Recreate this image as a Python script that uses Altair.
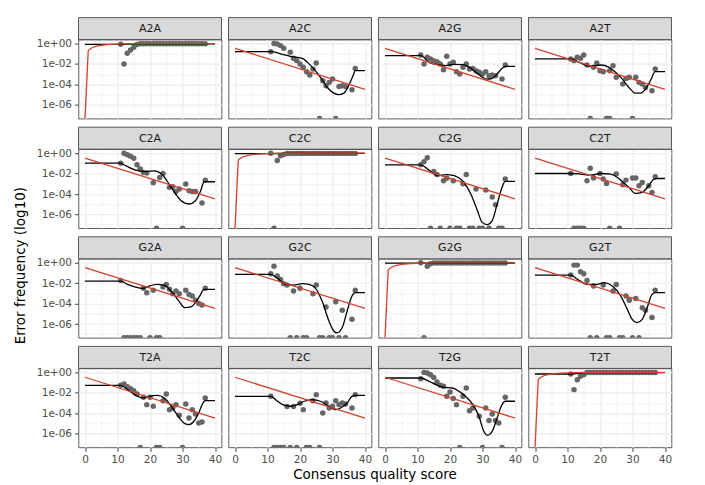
import altair as alt
import pandas as pd

# ---------------- layout of panels ----------------
PANELS = [["A2A", "A2C", "A2G", "A2T"],
          ["C2A", "C2C", "C2G", "C2T"],
          ["G2A", "G2C", "G2G", "G2T"],
          ["T2A", "T2C", "T2G", "T2T"]]
DIAG = ["A2A", "C2C", "G2G", "T2T"]

Q_TICKS = [0, 5, 10, 15, 20, 25, 30, 35, 40]
Y_TICKS = [1e0, 1e-1, 1e-2, 1e-3, 1e-4, 1e-5, 1e-6, 1e-7]
X_TITLE = "Consensus quality score"
Y_TITLE = "Error frequency (log10)"

# ---------------- nominal (red) lines ----------------
NOM_OFF_Q = [0, 40]
NOM_OFF_V = [0.3333, 0.00003333]
NOM_DIAG_Q = [0, 1, 2, 3, 4, 5, 6, 7, 8, 10, 12, 15, 20, 30, 40]
NOM_DIAG_V = [0, 0.206, 0.369, 0.499, 0.602, 0.684, 0.749, 0.800, 0.842, 0.900, 0.937, 0.968, 0.990, 0.999, 1.0]

# ---------------- observed points (log10 of frequency) & zeros ----------------
A2A_pq = list(range(11, 38))
A2A_pe = [-0.07, -2.0, -0.95, -0.62, -0.36, -0.08] + [-0.02] * 21
A2A_zq = []
C2C_pq = [11, 13, 14, 15] + list(range(16, 38))
C2C_pe = [0.0, -0.72, -0.26, -0.12] + [-0.02] * 22
C2C_zq = [12]
G2G_pq = [11, 13, 14] + list(range(15, 38))
G2G_pe = [0.0, -0.33, -0.1] + [-0.02] * 23
G2G_zq = [12]
T2T_pq = list(range(11, 38))
T2T_pe = [-0.16, -1.69, -0.72, -0.39, -0.23] + [-0.02] * 22
T2T_zq = []

A2C_pq = [11, 12, 13, 14, 15, 17, 18, 19, 20, 21, 22, 23, 24, 25, 27, 28, 29, 30, 32, 33, 34, 36, 37]
A2C_pe = [-0.79, 0.0, -0.05, -0.2, -0.46, -0.85, -1.44, -1.67, -2.0, -2.33, -2.75, -3.08, -2.49, -1.9,
          -3.64, -4.13, -3.8, -3.48, -4.2, -4.13, -4.2, -4.52, -2.43]
A2C_zq = [26, 31]
A2G_pq = [11, 12, 13, 14, 15, 16, 17, 18, 19, 20, 21, 22, 23, 24, 25, 26, 27, 28, 29, 30, 31, 32, 33, 34, 36, 37]
A2G_pe = [-1.11, -2.0, -1.34, -1.5, -1.67, -1.77, -2.0, -2.56, -1.25, -2.0, -1.84, -2.75, -2.98, -2.33,
          -2.0, -2.49, -2.43, -2.66, -2.82, -2.98, -2.75, -3.15, -3.08, -3.15, -3.48, -2.1]
A2G_zq = []
A2T_pq = [11, 12, 13, 14, 15, 16, 18, 19, 20, 21, 23, 24, 25, 27, 28, 29, 31, 32, 33, 34, 36, 37]
A2T_pe = [-1.5, -1.67, -1.34, -1.43, -1.11, -2.1, -2.33, -1.9, -2.66, -2.75, -2.66, -2.16, -3.3, -3.97,
          -3.41, -3.3, -3.3, -3.8, -3.97, -4.3, -4.62, -2.49]
A2T_zq = [17, 22, 23, 30]

C2A_pq = [11, 12, 13, 14, 15, 16, 17, 18, 19, 21, 23, 24, 26, 27, 28, 29, 31, 32, 33, 34, 36, 37]
C2A_pe = [-0.98, 0.0, -0.16, -0.29, -0.49, -1.14, -1.56, -1.89, -1.95, -2.9, -2.38, -1.99, -3.35, -3.29,
          -3.75, -3.52, -3.03, -3.68, -3.75, -3.75, -4.89, -2.64]
C2A_zq = [22, 30]
C2G_pq = [11, 12, 13, 15, 16, 18, 19, 21, 24, 25, 28, 31, 33, 34, 37]
C2G_pe = [-1.14, -0.85, -0.45, -1.8, -2.1, -2.7, -2.45, -2.7, -3.0, -2.1, -3.5, -3.6, -4.3, -5.05, -2.54]
C2G_zq = [14, 17, 20, 22, 23, 26, 27, 29, 30, 32, 35, 36]
C2T_pq = [11, 16, 17, 18, 20, 21, 22, 25, 27, 28, 30, 31, 32, 33, 35, 36, 37]
C2T_pe = [-1.99, -2.7, -1.47, -2.44, -1.99, -2.54, -2.96, -2.05, -3.1, -2.64, -2.44, -2.44, -3.19,
          -2.87, -3.19, -3.84, -2.31]
C2T_zq = [12, 13, 14, 15, 23, 26]

G2A_pq = [11, 18, 19, 21, 24, 25, 26, 27, 28, 29, 31, 32, 33, 34, 35, 36, 37]
G2A_pe = [-1.73, -2.5, -2.93, -2.7, -2.38, -2.12, -2.6, -3.03, -2.77, -3.03, -2.7, -3.1, -3.26, -3.68,
          -4.0, -4.14, -2.5]
G2A_zq = [12, 13, 14, 15, 16, 17, 20, 22, 23]
G2C_pq = [11, 12, 13, 14, 15, 16, 18, 20, 24, 25, 28, 31, 33, 36, 37]
G2C_pe = [-1.07, -0.33, -1.3, -1.63, -2.05, -2.18, -2.77, -2.5, -3.03, -2.18, -4.33, -3.81, -4.66, -5.54, -2.7]
G2C_zq = [17, 19, 21, 22, 26, 27, 29, 30, 32, 34]
G2T_pq = [11, 12, 13, 14, 15, 16, 18, 21, 24, 25, 28, 29, 31, 33, 34, 36, 37]
G2T_pe = [-1.2, -0.23, -0.23, -0.88, -1.07, -1.73, -2.28, -2.18, -2.77, -2.12, -3.26, -3.68, -3.49,
          -4.4, -4.66, -5.37, -2.7]
G2T_zq = [17, 19, 22, 23, 26, 27, 30, 32]

T2A_pq = [11, 12, 13, 14, 15, 16, 18, 19, 20, 21, 24, 25, 26, 27, 28, 29, 31, 32, 33, 34, 35, 36, 37]
T2A_pe = [-1.27, -1.14, -1.4, -1.6, -1.79, -2.12, -2.44, -3.16, -2.44, -3.32, -2.77, -2.12, -3.65, -3.49,
          -3.16, -4.2, -3.09, -4.46, -3.65, -4.07, -4.95, -4.85, -2.5]
T2A_zq = [17, 22, 23, 30]
T2C_pq = [11, 16, 18, 20, 21, 24, 25, 27, 28, 29, 30, 31, 32, 33, 34, 36, 37]
T2C_pe = [-2.35, -3.35, -3.35, -3.03, -3.65, -2.77, -2.18, -3.97, -3.0, -3.49, -3.32, -2.77, -3.16,
          -3.0, -3.09, -3.49, -2.18]
T2C_zq = [12, 13, 14, 15, 17, 19, 22, 23, 26]
T2G_pq = [11, 12, 13, 14, 15, 16, 17, 18, 19, 20, 21, 22, 24, 25, 26, 27, 29, 31, 32, 33, 34, 35, 37]
T2G_pe = [-0.62, 0.0, -0.07, -0.23, -0.49, -0.94, -1.27, -1.37, -2.35, -1.92, -2.57, -3.16, -2.35, -1.53,
          -3.75, -3.49, -4.3, -3.49, -4.72, -4.07, -4.72, -4.95, -2.44]
T2G_zq = [23, 30, 36]

# ---------------- fitted (black) lines, log10 ----------------
A2A_fq = [0, 11, 16, 40]; A2A_fe = [-0.08, -0.08, -0.02, -0.02]
C2C_fq = [0, 11, 16, 40]; C2C_fe = [-0.04, -0.04, -0.02, -0.02]
G2G_fq = [0, 11, 16, 40]; G2G_fe = [-0.04, -0.04, -0.02, -0.02]
T2T_fq = [0, 11, 16, 40]; T2T_fe = [-0.16, -0.16, -0.02, -0.02]

A2C_fq = [0, 11, 14, 17, 20.7, 22.3, 24.3, 26.3, 28.4, 30.4, 32, 33.5, 35, 36.5, 37, 40]
A2C_fe = [-0.79, -0.79, -1.0, -1.25, -1.44, -1.84, -2.5, -3.3, -4.3, -4.85, -5.0, -4.85, -4.1, -3.0, -2.65, -2.65]
A2G_fq = [0, 11, 13.6, 17, 18.7, 21, 24, 26, 28, 30, 31.5, 33, 34.5, 36, 37, 40]
A2G_fe = [-1.18, -1.18, -1.84, -2.1, -2.16, -2.03, -2.07, -2.33, -2.82, -3.3, -3.48, -3.4, -2.98, -2.43, -2.23, -2.23]
A2T_fq = [0, 11, 13.6, 17.2, 20.2, 22.8, 24.8, 26.9, 28.9, 30.9, 32.5, 34, 35.5, 37, 40]
A2T_fe = [-1.5, -1.5, -1.84, -2.23, -2.1, -2.33, -2.82, -3.48, -4.3, -4.85, -4.85, -4.46, -3.64, -2.75, -2.75]

C2A_fq = [0, 10.8, 12.6, 15.6, 18.7, 21.3, 23.8, 25.8, 27.9, 29.9, 32, 34, 35.5, 36.7, 40]
C2A_fe = [-0.98, -0.98, -1.24, -1.66, -1.8, -1.73, -2.1, -3.0, -4.0, -4.75, -4.98, -4.66, -3.75, -2.8, -2.8]
C2G_fq = [0, 11, 13.1, 16.2, 18.7, 21.3, 23.8, 26.4, 28.4, 29.9, 31.4, 33, 34.5, 36, 37, 40]
C2G_fe = [-1.14, -1.14, -1.56, -2.2, -2.1, -2.2, -2.7, -4.0, -5.6, -6.78, -7.0, -6.6, -5.0, -3.36, -2.77, -2.77]
C2T_fq = [0, 11, 14.1, 17.2, 20.2, 23.3, 26.4, 28.9, 30.9, 33, 35, 36.6, 37.6, 40]
C2T_fe = [-1.99, -1.99, -2.05, -2.15, -1.99, -2.05, -2.64, -3.36, -3.94, -3.84, -3.19, -2.54, -2.48, -2.48]

G2A_fq = [0, 11, 13.1, 15.6, 17.7, 19.7, 22.3, 24.3, 26.9, 28.9, 30.7, 32.5, 34, 35.3, 36.6, 40]
G2A_fe = [-1.79, -1.79, -2.12, -2.38, -2.5, -2.28, -2.12, -2.18, -2.93, -3.75, -4.4, -4.33, -3.9, -3.26, -2.6, -2.6]
G2C_fq = [0, 11, 13.1, 15.7, 18.2, 20.7, 22.8, 24.8, 26.8, 28.9, 30.4, 31.4, 33, 34.5, 36, 37, 40]
G2C_fe = [-1.14, -1.14, -1.53, -2.12, -2.18, -2.05, -2.12, -2.5, -3.75, -5.7, -6.68, -6.87, -6.35, -4.72,
          -3.26, -2.93, -2.93]
G2T_fq = [0, 11, 13.1, 16.2, 18.7, 21.3, 23.8, 26.4, 28.4, 29.9, 31.4, 33, 34.5, 36, 37, 40]
G2T_fe = [-1.2, -1.2, -1.63, -2.12, -2.12, -1.95, -2.28, -3.26, -4.56, -5.54, -5.86, -5.54, -4.4, -3.1, -2.93, -2.93]

T2A_fq = [0, 11, 13.1, 15.6, 17.7, 19.7, 22.3, 24.3, 26.9, 28.9, 30.9, 32, 33.5, 35, 36.3, 37, 40]
T2A_fe = [-1.27, -1.27, -1.69, -2.25, -2.5, -2.35, -2.25, -2.5, -3.49, -4.4, -5.05, -5.11, -4.79, -3.97,
          -3.0, -2.77, -2.77]
T2C_fq = [0, 11, 13.1, 15.1, 17.2, 19.2, 21.3, 23.8, 26.3, 28.9, 30.9, 32.5, 34.5, 36, 37, 40]
T2C_fe = [-2.35, -2.35, -2.83, -3.22, -3.32, -3.16, -2.83, -2.67, -2.83, -3.32, -3.65, -3.49, -3.0, -2.35, -2.25, -2.25]
T2G_fq = [0, 11, 13.6, 16.2, 18.2, 20.7, 22.8, 24.8, 26.9, 28.9, 30.4, 31.5, 33, 34.5, 36, 37, 40]
T2G_fe = [-0.55, -0.55, -0.88, -1.27, -1.47, -1.53, -1.86, -2.35, -3.09, -4.3, -5.77, -6.16, -5.77, -4.46,
          -3.16, -2.83, -2.83]

G = globals()

# ---------------- styling constants ----------------
FONT = "DejaVu Sans"
W, H = 143, 79
STRIP_H = 22
YMIN, YMAX = 10 ** -7.35, 10 ** 0.39

xscale = alt.Scale(domain=[-2, 42], nice=False, zero=False)
yscale = alt.Scale(type="log", domain=[YMIN, YMAX], nice=False)

X_MAJOR = "datum.value % 10 === 0"
Y_EXP = "round(log(datum.value)/LN10)"
Y_MAJOR = "abs(" + Y_EXP + ") % 2 === 0"
Y_LABEL = ("(" + Y_MAJOR + ") ? ('1e' + (" + Y_EXP + " >= 0 ? '+' : '-') + (abs(" + Y_EXP +
           ") < 10 ? '0' : '') + abs(" + Y_EXP + ")) : ''")


def make_axis(kind, show):
    major = X_MAJOR if kind == "x" else Y_MAJOR
    common = dict(
        values=Q_TICKS if kind == "x" else Y_TICKS,
        title=None, grid=True, gridColor="#EBEBEB",
        gridWidth={"condition": {"test": major, "value": 1.1}, "value": 0.6},
        domain=False, labelOverlap=False,
    )
    if show:
        return alt.Axis(
            labels=True, ticks=True, tickSize=4, tickColor="#333333", tickWidth=0.9,
            tickOpacity={"condition": {"test": major, "value": 1}, "value": 0},
            labelExpr=("datum.value % 10 === 0 ? datum.label : ''" if kind == "x" else Y_LABEL),
            labelFont=FONT, labelFontSize=10.5, labelColor="#4D4D4D", labelPadding=3,
            labelFlush=False, **common)
    return alt.Axis(labels=False, ticks=False, **common)


def to_v(e):
    return 10 ** e


def panel(name, r, c):
    diag = name in DIAG
    pts = pd.DataFrame({"q": G[name + "_pq"], "v": [to_v(e) for e in G[name + "_pe"]]})
    zer = pd.DataFrame({"q": G[name + "_zq"], "v": [YMIN] * len(G[name + "_zq"])})
    fit = pd.DataFrame({"q": G[name + "_fq"], "v": [to_v(e) for e in G[name + "_fe"]]})
    if diag:
        nom = pd.DataFrame({"q": NOM_DIAG_Q, "v": [YMIN if v <= 0 else v for v in NOM_DIAG_V]})
    else:
        nom = pd.DataFrame({"q": NOM_OFF_Q, "v": NOM_OFF_V})

    X = alt.X("q:Q", scale=xscale, axis=make_axis("x", r == 3))
    Y = alt.Y("v:Q", scale=yscale, axis=make_axis("y", c == 0))

    layers = []
    layers.append(alt.Chart(pts).mark_circle(size=30, color="#666666", opacity=1, clip=True).encode(x=X, y=Y))
    if len(zer):
        layers.append(alt.Chart(zer).mark_circle(size=30, color="#666666", opacity=1, clip=True).encode(x=X, y=Y))
    layers.append(alt.Chart(fit).mark_line(color="black", strokeWidth=1.3, interpolate="monotone",
                                           clip=True).encode(x=X, y=Y))
    layers.append(alt.Chart(nom).mark_line(color="#D2432C", strokeWidth=1.3, clip=True).encode(x=X, y=Y))

    lab = pd.DataFrame({"t": [name]})
    layers.append(alt.Chart(lab).mark_rect(fill="#D9D9D9", stroke="#333333", strokeWidth=0.8).encode(
        x=alt.value(0), x2=alt.value(W), y=alt.value(-STRIP_H), y2=alt.value(0)))
    layers.append(alt.Chart(lab).mark_text(font=FONT, fontSize=11, color="#1A1A1A", baseline="middle",
                                           align="center").encode(
        x=alt.value(W / 2), y=alt.value(-STRIP_H / 2 + 0.5), text="t:N"))
    if r == 0 and c == 0:
        t = pd.DataFrame({"t": [Y_TITLE]})
        layers.append(alt.Chart(t).mark_text(font=FONT, fontSize=13.5, color="black", angle=270,
                                             baseline="middle", align="center").encode(
            x=alt.value(-58), y=alt.value(226), text="t:N"))
    if r == 3 and c == 0:
        t = pd.DataFrame({"t": [X_TITLE]})
        layers.append(alt.Chart(t).mark_text(font=FONT, fontSize=13.5, color="black",
                                             baseline="middle", align="center").encode(
            x=alt.value(296.5), y=alt.value(107), text="t:N"))
    return alt.layer(*layers).properties(width=W, height=H)


cells = []
for r, names in enumerate(PANELS):
    for c, n in enumerate(names):
        cells.append(panel(n, r, c))

chart = alt.concat(*cells, columns=4, spacing={"row": 30.6, "column": 7}, bounds="flush").properties(
    padding={"left": 4.5, "top": 8.6, "right": 5, "bottom": 5},
    background="white",
).configure_view(stroke="#333333", strokeWidth=0.8)

chart.save("out.html", embed_options={"renderer": "svg", "actions": False})
